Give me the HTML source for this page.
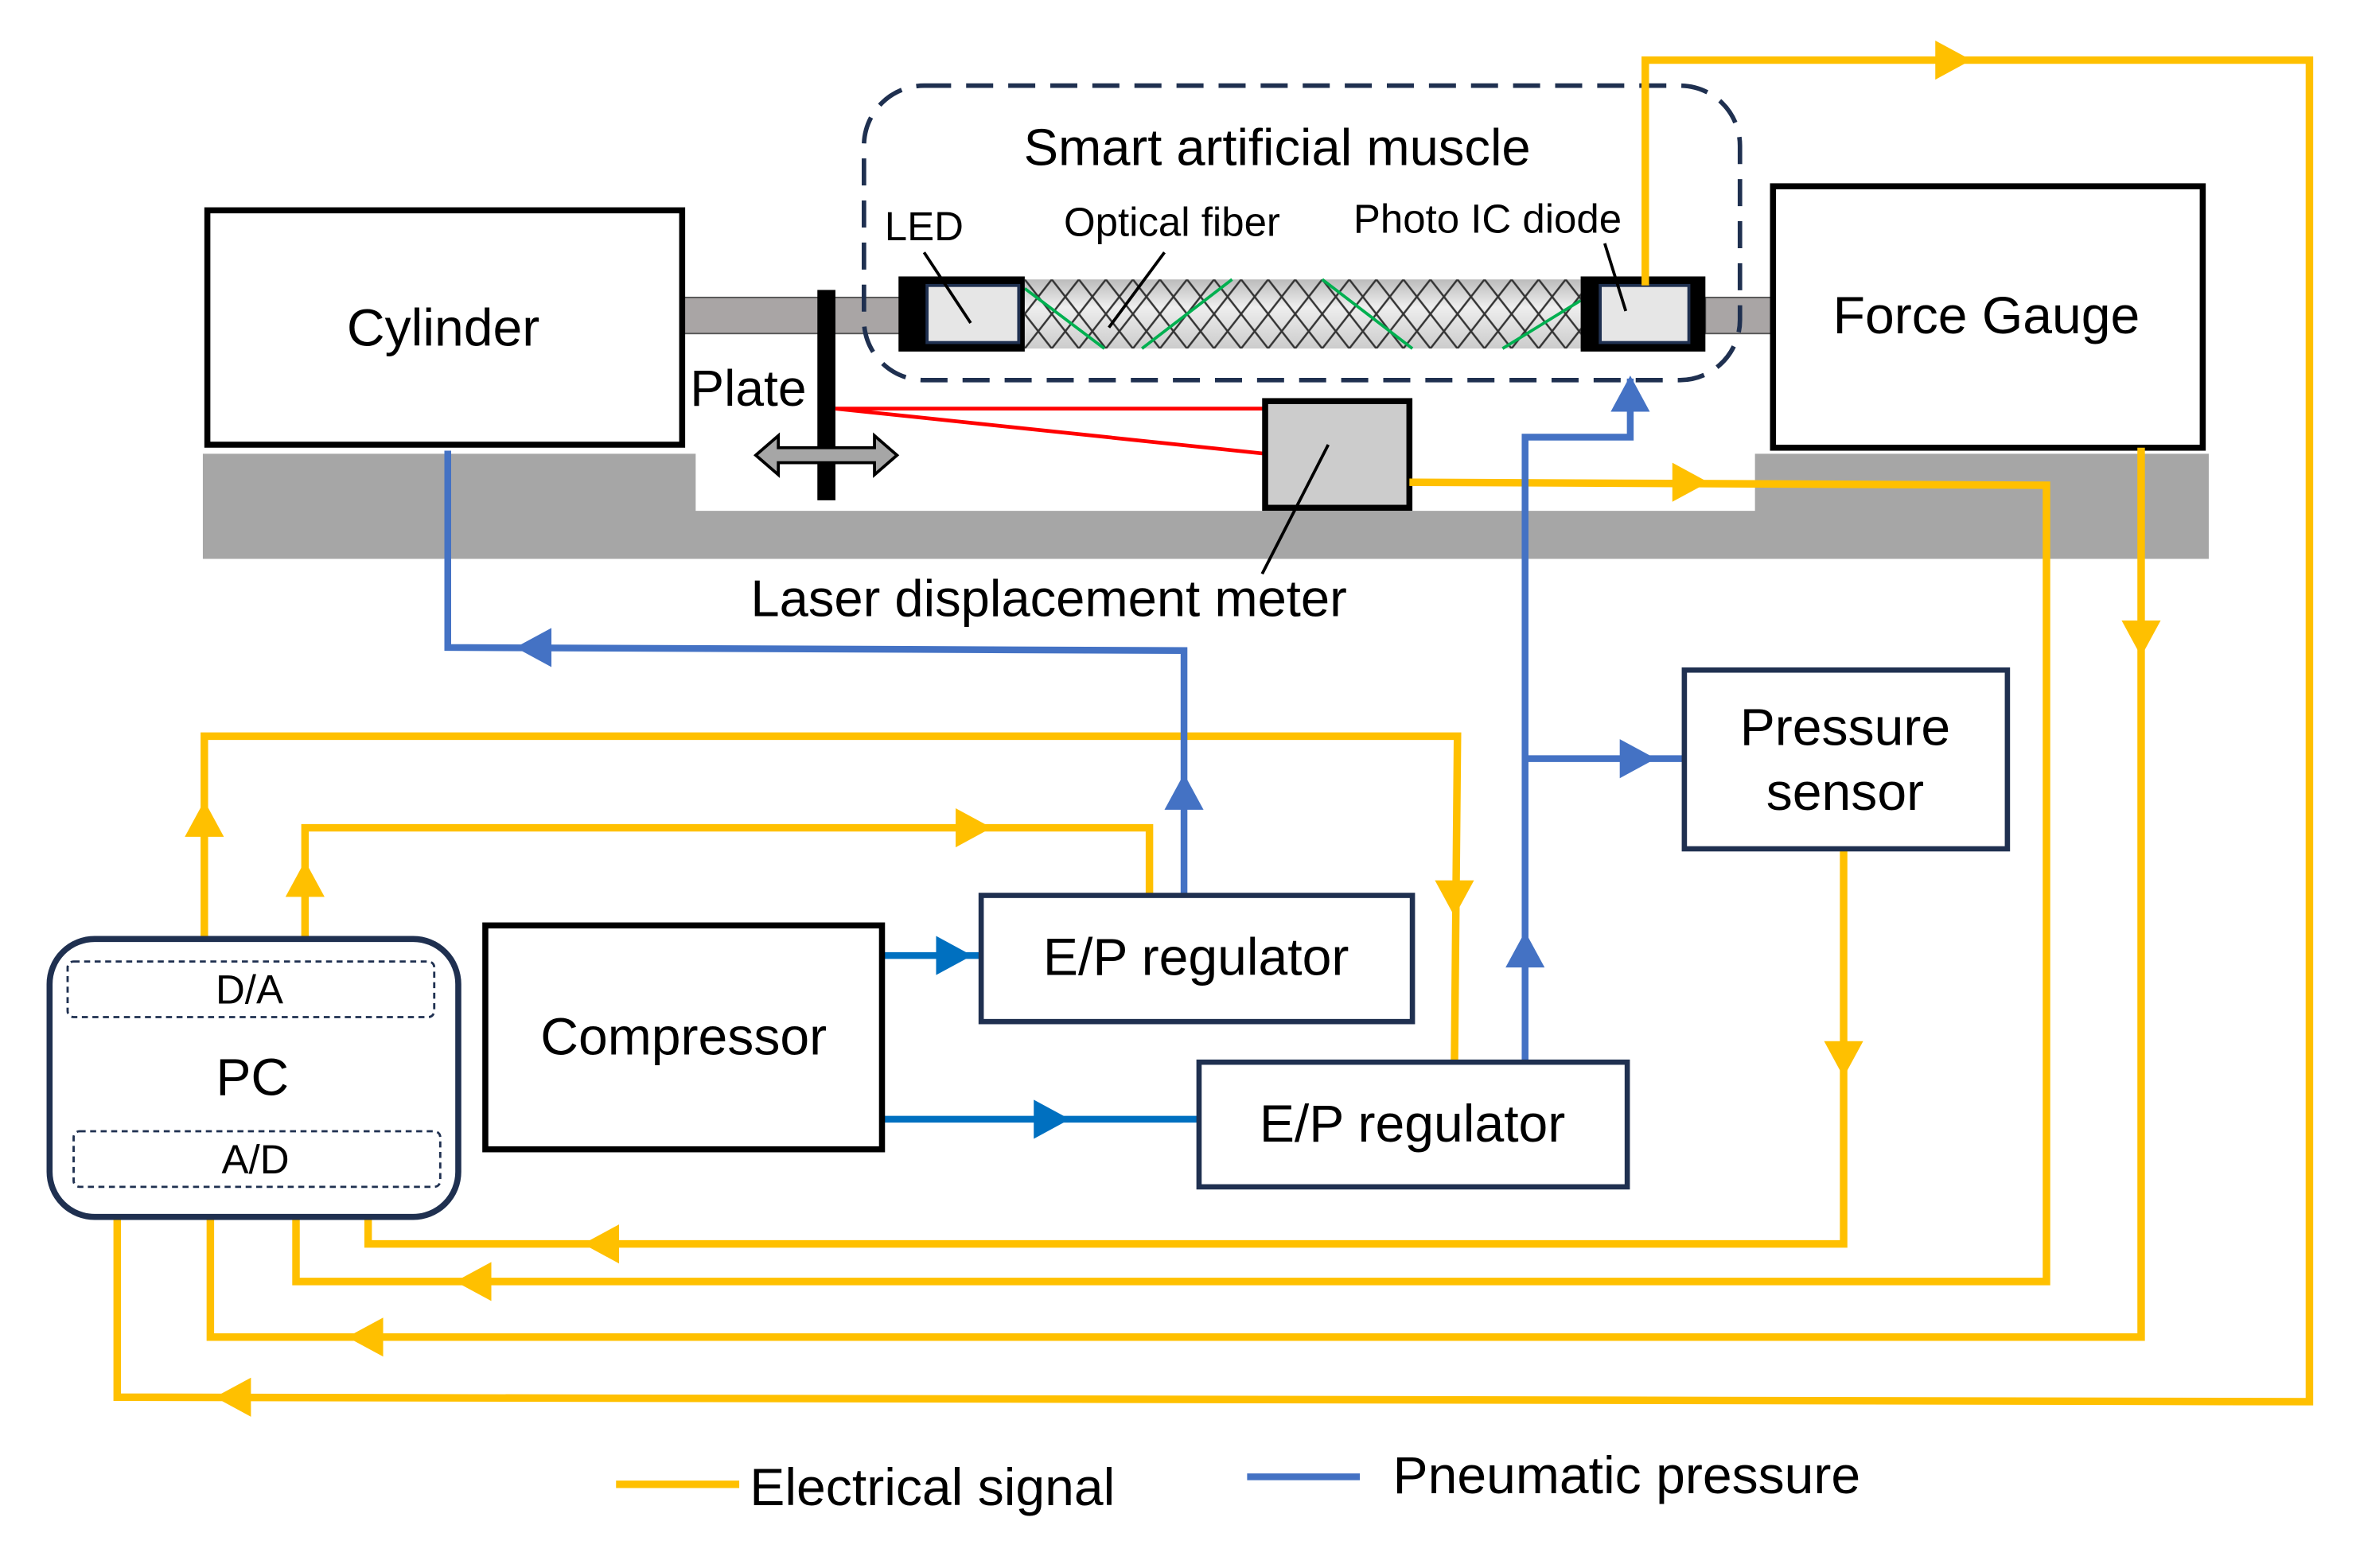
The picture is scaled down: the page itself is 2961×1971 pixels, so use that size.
<!DOCTYPE html>
<html><head><meta charset="utf-8"><style>html,body{margin:0;padding:0;background:#fff}svg{display:block}</style></head>
<body>
<svg width="2961" height="1971" viewBox="0 0 1568 1043.7" preserveAspectRatio="none" xmlns="http://www.w3.org/2000/svg" font-family="Liberation Sans, Arial, sans-serif">
<defs>
<linearGradient id="mg" x1="0" y1="0" x2="0" y2="1"><stop offset="0" stop-color="#bbb"/><stop offset="0.4" stop-color="#eee"/><stop offset="1" stop-color="#ccc"/></linearGradient>
<pattern id="hatch" width="18" height="23" patternUnits="userSpaceOnUse" x="682" y="186"><path d="M0,0 L18,23 M18,0 L0,23" stroke="#333" stroke-width="1.3" fill="none"/></pattern>
</defs>
<path d="M135,302 H463 V340 H1168 V302 H1470 V372 H135 Z" fill="#a6a6a6"/>
<rect x="454" y="198" width="146" height="24" fill="#a9a5a5" stroke="#555" stroke-width="1"/>
<rect x="1135" y="198" width="45" height="24" fill="#a9a5a5" stroke="#555" stroke-width="1"/>
<rect x="138" y="140" width="316" height="156" fill="#fff" stroke="#000" stroke-width="4"/>
<text x="295" y="230" font-size="35" text-anchor="middle">Cylinder</text>
<rect x="1180" y="124" width="286" height="174" fill="#fff" stroke="#000" stroke-width="4"/>
<text x="1322" y="222" font-size="35" text-anchor="middle">Force Gauge</text>
<rect x="575" y="57" width="583" height="196" rx="40" fill="none" stroke="#1f3050" stroke-width="3" stroke-dasharray="18,10"/>
<text x="850" y="110" font-size="34.5" text-anchor="middle">Smart artificial muscle</text>
<text x="615" y="160" font-size="27" text-anchor="middle">LED</text>
<text x="780" y="157" font-size="27" text-anchor="middle">Optical fiber</text>
<text x="990" y="155" font-size="27" text-anchor="middle">Photo IC diode</text>
<rect x="682" y="186" width="370" height="46" fill="url(#mg)"/>
<rect x="682" y="186" width="370" height="46" fill="url(#hatch)"/>
<g stroke="#00b050" stroke-width="2" fill="none"><line x1="682" y1="192" x2="735" y2="232"/><line x1="760" y1="232" x2="820" y2="186"/><line x1="880" y1="186" x2="940" y2="232"/><line x1="1000" y1="232" x2="1052" y2="200"/></g>
<rect x="598" y="184" width="84" height="50" fill="#000"/>
<rect x="617" y="190" width="61" height="38" fill="#e6e6e6" stroke="#1f3050" stroke-width="2"/>
<rect x="1052" y="184" width="83" height="50" fill="#000"/>
<rect x="1065" y="190" width="59" height="38" fill="#e6e6e6" stroke="#1f3050" stroke-width="2"/>
<g stroke="#000" stroke-width="2"><line x1="615" y1="168" x2="646" y2="215"/><line x1="775" y1="168" x2="738" y2="218"/><line x1="1068" y1="162" x2="1082" y2="207"/></g>
<rect x="544" y="193" width="12" height="140" fill="#000"/>
<polygon points="503,303 518,290 518,298 582,298 582,290 597,303 582,316 582,308 518,308 518,316" fill="#a6a6a6" stroke="#000" stroke-width="2"/>
<text x="498" y="270" font-size="34" text-anchor="middle">Plate</text>
<g stroke="#ff0000" stroke-width="2.5"><line x1="556" y1="272" x2="842" y2="272"/><line x1="556" y1="272" x2="842" y2="302"/></g>
<rect x="842" y="267" width="96" height="71" fill="#ccc" stroke="#000" stroke-width="4"/>
<line x1="884" y1="296" x2="840" y2="382" stroke="#000" stroke-width="2"/>
<text x="698" y="410" font-size="34.5" text-anchor="middle">Laser displacement meter</text>
<g stroke="#ffc000" stroke-width="5" fill="none">
<polyline points="1095,190 1095,40 1537,40 1537,933 78,930 78,810"/>
<polyline points="938,321 1362,323 1362,853 197,853 197,810"/>
<polyline points="1425,298 1425,890 140,890 140,810"/>
<polyline points="1227,565 1227,828 245,828 245,810"/>
<polyline points="136,625 136,490 970,490 968,707"/>
<polyline points="203,625 203,551 765,551 765,596"/>
<line x1="410" y1="988" x2="492" y2="988"/>
</g>
<g fill="#ffc000">
<polygon points="1288,27 1312,40 1288,53"/>
<polygon points="167,917 143,930 167,943"/>
<polygon points="1113,308 1137,321 1113,334"/>
<polygon points="327,840 303,853 327,866"/>
<polygon points="1412,413 1438,413 1425,437"/>
<polygon points="255,877 231,890 255,903"/>
<polygon points="1214,693 1240,693 1227,717"/>
<polygon points="412,815 388,828 412,841"/>
<polygon points="123,557 149,557 136,533"/>
<polygon points="955,586 981,586 968,610"/>
<polygon points="190,597 216,597 203,573"/>
<polygon points="636,538 660,551 636,564"/>
</g>
<g stroke="#4472c4" stroke-width="4.5" fill="none">
<polyline points="298,300 298,431 788,433 788,596"/>
<polyline points="1015,707 1015,291 1085,291 1085,252"/>
<line x1="1015" y1="505" x2="1120" y2="505"/>
<line x1="830" y1="983" x2="905" y2="983"/>
</g>
<g stroke="#0070c0" stroke-width="4.5"><line x1="588" y1="636" x2="653" y2="636"/><line x1="588" y1="745" x2="798" y2="745"/></g>
<g fill="#4472c4">
<polygon points="367,418 343,431 367,444"/>
<polygon points="775,539 801,539 788,515"/>
<polygon points="1002,644 1028,644 1015,620"/>
<polygon points="1072,274 1098,274 1085,250"/>
<polygon points="1078,492 1102,505 1078,518"/>
<polygon points="623,623 647,636 623,649" fill="#0070c0"/>
<polygon points="688,732 712,745 688,758" fill="#0070c0"/>
</g>
<rect x="33" y="625" width="272" height="185" rx="30" fill="#fff" stroke="#1f3050" stroke-width="4"/>
<rect x="45" y="640" width="244" height="37" rx="4" fill="none" stroke="#1f3050" stroke-width="1.5" stroke-dasharray="4,3"/>
<rect x="49" y="753" width="244" height="37" rx="4" fill="none" stroke="#1f3050" stroke-width="1.5" stroke-dasharray="4,3"/>
<text x="166" y="668" font-size="27" text-anchor="middle">D/A</text>
<text x="168" y="729" font-size="35" text-anchor="middle">PC</text>
<text x="170" y="781" font-size="27" text-anchor="middle">A/D</text>
<rect x="323" y="616" width="264" height="149" fill="#fff" stroke="#000" stroke-width="4"/>
<text x="455" y="702" font-size="35" text-anchor="middle">Compressor</text>
<rect x="653" y="596" width="287" height="84" fill="#fff" stroke="#1f3050" stroke-width="3.5"/>
<text x="796" y="649" font-size="35" text-anchor="middle">E/P regulator</text>
<rect x="798" y="707" width="285" height="83" fill="#fff" stroke="#1f3050" stroke-width="3.5"/>
<text x="940" y="760" font-size="35" text-anchor="middle">E/P regulator</text>
<rect x="1121" y="446" width="215" height="119" fill="#fff" stroke="#1f3050" stroke-width="3.5"/>
<text x="1228" y="496" font-size="35" text-anchor="middle">Pressure</text>
<text x="1228" y="539" font-size="35" text-anchor="middle">sensor</text>
<text x="499" y="1002" font-size="35">Electrical signal</text>
<text x="927" y="994" font-size="35">Pneumatic pressure</text>
</svg>
</body></html>
